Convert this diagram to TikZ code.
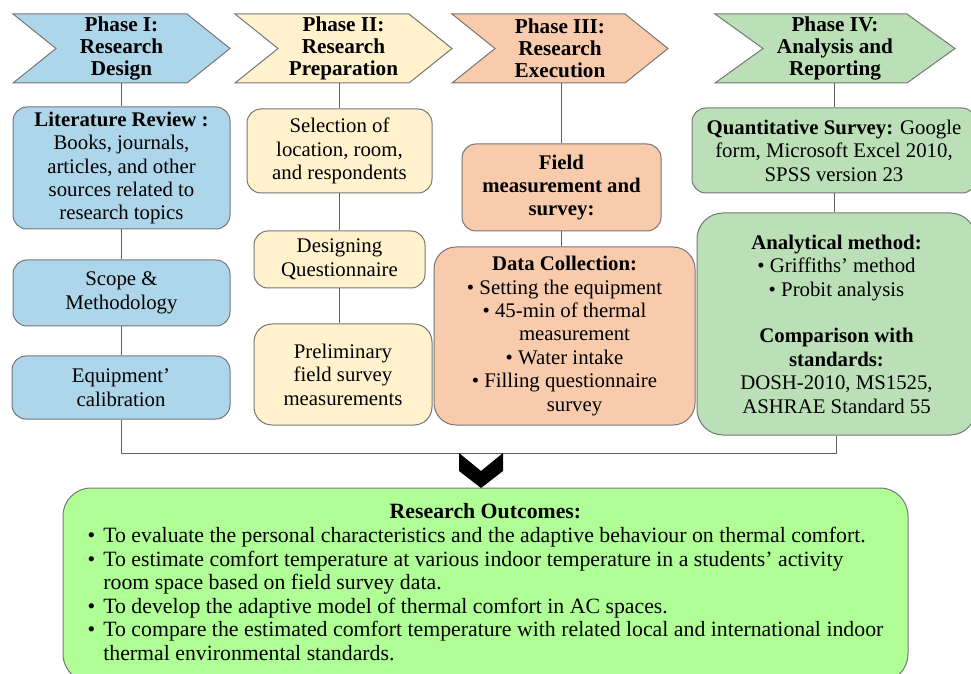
\documentclass[tikz,border=0pt]{standalone}
\usepackage{fontspec}
\setmainfont{Liberation Serif}
\usetikzlibrary{shapes.symbols}
\definecolor{Cd}{RGB}{174,214,234}
\definecolor{Cp}{RGB}{255,242,204}
\definecolor{Ce}{RGB}{248,203,173}
\definecolor{Cr}{RGB}{187,224,183}
\definecolor{Co}{RGB}{176,255,150}
\definecolor{Cbdr}{RGB}{118,118,118}
\definecolor{Cln}{RGB}{96,96,96}
\tikzset{
  ph/.style n args={1}{signal, signal from=west, signal to=east,
    signal pointer angle=77.5, draw=Cbdr, fill=#1, line width=0.5pt,
    minimum width=108.5pt, minimum height=34.5pt, inner sep=0pt,
    align=center, font=\fontsize{10.6}{11}\selectfont\bfseries},
  bx/.style n args={1}{draw=Cbdr, fill=#1, rounded corners=7pt,
    line width=0.5pt, inner sep=2pt, align=center,
    font=\fontsize{10.4}{11.7}\selectfont},
  ln/.style={draw=Cln, line width=0.5pt}
}

\begin{document}
\begin{tikzpicture}[x=0.5pt, y=-0.5pt]
\useasboundingbox (0,0) rectangle (971,674);

% ═══════════════════════════════════════════════════════════════
%  Phase arrows  (x in px of the 971 x 674 sheet, y downwards)
% ═══════════════════════════════════════════════════════════════
\node[ph={Cd}] (Dph) at (121.5,48.5) {Phase I:\\Research\\Design};
\node[ph={Cp}] (Pph) at (343.5,48.5) {Phase II:\\Research\\Preparation};
\node[ph={Ce}, minimum width=108pt] (Eph) at (560,48.5)
  {Phase III:\\Research\\Execution};
\node[ph={Cr}, minimum width=120pt, signal pointer angle=71.4] (Rph)
  at (835,48.5) {Phase IV:\\Analysis and\\Reporting};

% ═══════════════════════════════════════════════════════════════
%  Phase I  Research Design   x=121
% ═══════════════════════════════════════════════════════════════
\node[bx={Cd}, minimum width=108.5pt, minimum height=61pt] (Dlit)
  at (121.5,168) {\textbf{Literature Review :}\\Books, journals,\\
  articles, and other\\sources related to\\research topics};
\node[bx={Cd}, minimum width=108.5pt, minimum height=33pt] (Dsc)
  at (121.5,293) {Scope \&\\Methodology};
\node[bx={Cd}, minimum width=109pt, minimum height=31.5pt] (Deq)
  at (121,387.5) {Equipment'\\calibration};

% ═══════════════════════════════════════════════════════════════
%  Phase II  Research Preparation   x=340
% ═══════════════════════════════════════════════════════════════
\node[bx={Cp}, minimum width=92.5pt, minimum height=42pt] (Psel)
  at (339.5,151) {Selection of\\location, room,\\and respondents};
\node[bx={Cp}, minimum width=85.5pt, minimum height=28.5pt] (Pdes)
  at (339.5,259.5) {Designing\\Questionnaire};
\node[bx={Cp}, minimum width=89pt, minimum height=50.5pt,
      rounded corners=9pt] (Ppre)
  at (343,374.5) {Preliminary\\field survey\\measurements};

% ═══════════════════════════════════════════════════════════════
%  Phase III  Research Execution   x=561
% ═══════════════════════════════════════════════════════════════
\node[bx={Ce}, minimum width=99.5pt, minimum height=43.5pt,
      font=\fontsize{10.4}{11.7}\selectfont\bfseries] (Efm)
  at (561.5,187.5) {Field\\measurement and\\survey:};
\node[bx={Ce}, minimum width=130.5pt, minimum height=89pt,
      rounded corners=11pt] (Edc)
  at (564.5,336) {\textbf{Data Collection:}\\
  \textbullet\ Setting the equipment\\
  \textbullet\ 45-min of thermal\\ \hspace*{10pt}measurement\\
  \textbullet\ Water intake\\
  \textbullet\ Filling questionnaire\\ \hspace*{10pt}survey};

% ═══════════════════════════════════════════════════════════════
%  Phase IV  Analysis and Reporting   x=834
% ═══════════════════════════════════════════════════════════════
\node[bx={Cr}, minimum width=142pt, minimum height=42.5pt] (Rqs)
  at (834,150.5) {\textbf{Quantitative Survey:} Google\\
  form, Microsoft Excel 2010,\\SPSS version 23};
\node[bx={Cr}, minimum width=139.5pt, minimum height=111pt,
      rounded corners=13pt] (Ram)
  at (836.5,324) {\textbf{Analytical method:}\\
  \textbullet\ Griffiths' method\\
  \textbullet\ Probit analysis\\[11.7pt]
  \textbf{Comparison with}\\ \textbf{standards:}\\
  DOSH-2010, MS1525,\\ ASHRAE Standard 55};

% ═══════════════════════════════════════════════════════════════
%  Outcomes
% ═══════════════════════════════════════════════════════════════
\node[bx={Co}, minimum width=422.5pt, minimum height=97pt,
      rounded corners=14pt, font=\fontsize{10.9}{11.8}\selectfont] (Oout)
  at (485.5,585)
  {\begin{tabular}{@{}l@{\hspace{4pt}}l@{}}
   \multicolumn{2}{c}{\textbf{Research Outcomes:}}\\
   \textbullet & To evaluate the personal characteristics and the adaptive behaviour on thermal comfort.\\
   \textbullet & To estimate comfort temperature at various indoor temperature in a students' activity\\
               & room space based on field survey data.\\
   \textbullet & To develop the adaptive model of thermal comfort in AC spaces.\\
   \textbullet & To compare the estimated comfort temperature with related local and international indoor\\
               & thermal environmental standards.
   \end{tabular}};

\coordinate (Jd) at (121,453);

\draw[ln] (Dph.south) -- (Dlit.north);
\draw[ln] (Dlit.south) -- (Dlit.south |- Dsc.north);
\draw[ln] (Dsc.south) -- (Dsc.south |- Deq.north);
\draw[ln] (Psel.north |- Pph.south) -- (Psel.north);
\draw[ln] (Psel.south) -- (Psel.south |- Pdes.north);
\draw[ln] (Pdes.south) -- (Pdes.south |- Ppre.north);
\draw[ln] (Efm.north |- Eph.south) -- (Efm.north);
\draw[ln] (Efm.south) -- (Efm.south |- Edc.north);
\draw[ln] (Rqs.north |- Rph.south) -- (Rqs.north);
\draw[ln] (Rqs.south) -- (Rqs.south |- Ram.north);
\draw[ln] (Deq.south) -- (Deq.south |- Jd) -| (Ram.south);

% down chevron into the outcomes
\fill (459,453) -- (481,471) -- (503,453) -- (503,471) -- (481,488)
  -- (459,471) -- cycle;

\end{tikzpicture}
\end{document}
